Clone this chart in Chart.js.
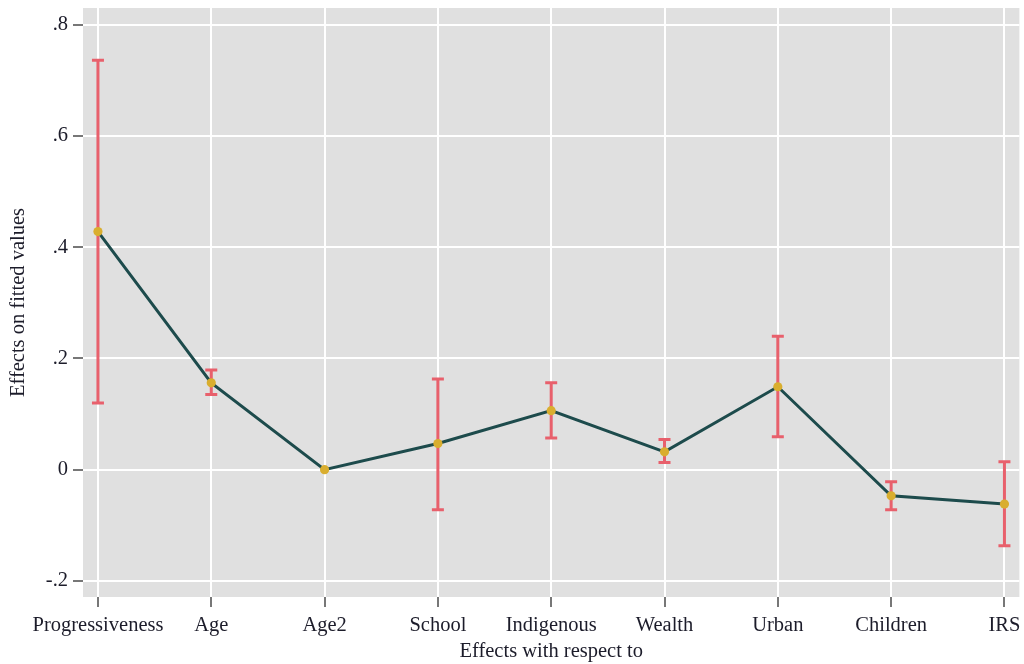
<!DOCTYPE html>
<html>
<head>
<meta charset="utf-8">
<script src="https://cdn.jsdelivr.net/npm/chart.js@4.4.1/dist/chart.umd.min.js"></script>
<style>
  html, body { margin: 0; padding: 0; background: #fff; }
  #wrap { width: 1024px; height: 664px; }
</style>
</head>
<body>
<div id="wrap"><canvas id="c" width="1024" height="664"></canvas></div>
<script>
// Effects on fitted values with 95% confidence bounds
const categories = ["Progressiveness", "Age", "Age2", "School", "Indigenous", "Wealth", "Urban", "Children", "IRS"];
const effects = [0.428, 0.156, 0.000, 0.047, 0.106, 0.032, 0.149, -0.047, -0.062];
const upperBounds = [0.736, 0.179, 0.000, 0.163, 0.156, 0.054, 0.240, -0.022, 0.014];
const lowerBounds = [0.120, 0.135, 0.000, -0.072, 0.057, 0.013, 0.059, -0.072, -0.137];
const yTickValues = [-0.2, 0, 0.2, 0.4, 0.6, 0.8];
const yTickLabels = ["-.2", "0", ".2", ".4", ".6", ".8"];

const FONT = "'Liberation Serif', 'DejaVu Serif', serif";
const TEXT = "#1c1c2a";
const FSIZE = 20.5;

const plotBackground = {
  id: 'plotBackground',
  beforeDraw(chart) {
    const { ctx, chartArea: a } = chart;
    ctx.save();
    ctx.fillStyle = '#e0e0e0';
    ctx.fillRect(a.left, a.top, a.right - a.left, a.bottom - a.top);
    ctx.restore();
  }
};

const errorBars = {
  id: 'errorBars',
  beforeDatasetsDraw(chart) {
    const { ctx } = chart;
    const xs = chart.scales.x, ys = chart.scales.y;
    ctx.save();
    ctx.strokeStyle = '#e8606c';
    ctx.lineWidth = 3;
    ctx.lineCap = 'butt';
    const cap = 6;
    categories.forEach((_, i) => {
      if (upperBounds[i] === lowerBounds[i]) return;
      const x = xs.getPixelForValue(i);
      const yt = ys.getPixelForValue(upperBounds[i]);
      const yb = ys.getPixelForValue(lowerBounds[i]);
      ctx.beginPath();
      ctx.moveTo(x, yt); ctx.lineTo(x, yb);
      ctx.moveTo(x - cap, yt); ctx.lineTo(x + cap, yt);
      ctx.moveTo(x - cap, yb); ctx.lineTo(x + cap, yb);
      ctx.stroke();
    });
    ctx.restore();
  }
};

new Chart(document.getElementById('c'), {
  type: 'line',
  data: {
    datasets: [{
      data: effects.map((v, i) => ({ x: i, y: v })),
      borderColor: '#1d4b4c',
      borderWidth: 3,
      pointBackgroundColor: '#d9ae2f',
      pointBorderColor: '#d9ae2f',
      pointRadius: 4.6,
      pointBorderWidth: 0,
      tension: 0,
      fill: false
    }]
  },
  options: {
    responsive: false,
    animation: false,
    devicePixelRatio: 1,
    layout: { padding: { top: 8, right: 2, left: 0, bottom: 0 } },
    plugins: { legend: { display: false }, tooltip: { enabled: false } },
    scales: {
      x: {
        type: 'linear',
        min: -0.132,
        max: 8.132,
        afterBuildTicks(axis) { axis.ticks = categories.map((_, i) => ({ value: i })); },
        afterFit(axis) { axis.height = 67; axis.paddingLeft = 0; axis.paddingRight = 0; },
        border: { display: false },
        grid: { color: '#ffffff', lineWidth: 2, tickColor: '#777', tickLength: 10, tickWidth: 2 },
        ticks: {
          autoSkip: false, maxRotation: 0, padding: 6,
          color: TEXT, font: { family: FONT, size: FSIZE },
          callback: v => categories[v]
        },
        title: {
          display: true, text: 'Effects with respect to',
          color: TEXT, font: { family: FONT, size: FSIZE }, padding: { top: 0, bottom: 0 }
        }
      },
      y: {
        min: -0.229,
        max: 0.830,
        afterBuildTicks(axis) { axis.ticks = yTickValues.map(v => ({ value: v })); },
        afterFit(axis) { axis.width = 83; axis.paddingTop = 0; axis.paddingBottom = 0; },
        border: { display: false },
        grid: { color: '#ffffff', lineWidth: 2, tickColor: '#777', tickLength: 10, tickWidth: 2 },
        ticks: {
          padding: 5, color: TEXT, font: { family: FONT, size: FSIZE },
          callback: v => yTickLabels[yTickValues.findIndex(t => Math.abs(t - v) < 1e-9)]
        },
        title: {
          display: true, text: 'Effects on fitted values',
          color: TEXT, font: { family: FONT, size: FSIZE }, padding: { top: 6, bottom: 0 }
        }
      }
    }
  },
  plugins: [plotBackground, errorBars]
});
</script>
</body>
</html>
